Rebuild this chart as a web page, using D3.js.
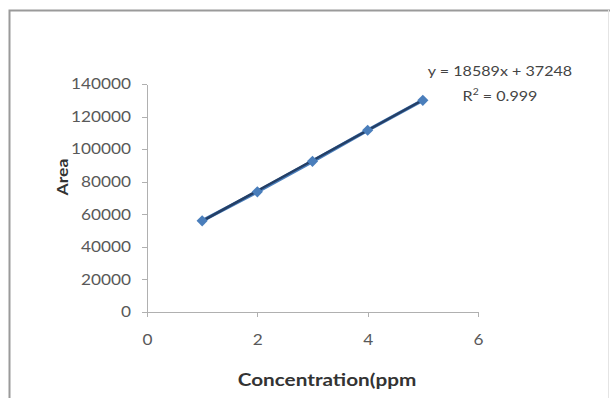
<!DOCTYPE html>
<html lang="en">
<head>
    <meta charset="UTF-8">
    <title>Calibration Curve</title>
    <script src="https://d3js.org/d3.v7.min.js"></script>
    <style>
        body { margin: 0; background: #fff; }
        .axis path, .axis line {
            fill: none;
            stroke: #b0b0b0;
            shape-rendering: crispEdges;
        }
        .axis text {
            font-family: Lato, "Open Sans", sans-serif;
            font-size: 15px;
            fill: #595959;
        }
    </style>
</head>
<body>
<svg width="610" height="398"></svg>
<script>
    // Data
    const conc = [1, 2, 3, 4, 5];
    const area = [56000, 73800, 92500, 111600, 130000];
    const xTicks = [0, 2, 4, 6];
    const yTicks = [0, 20000, 40000, 60000, 80000, 100000, 120000, 140000];
    const equation = "y = 18589x + 37248";

    const data = conc.map((c, i) => ({x: c, y: area[i]}));
    const stretch = 1.15; // the source image is a bit wide

    const svg = d3.select("svg");

    // chart border
    svg.append("path")
        .attr("d", "M9.5,398V10.5H610")
        .attr("fill", "none")
        .attr("stroke", "#9a9a9a")
        .attr("stroke-width", 2);
    svg.append("line")
        .attr("x1", 608.5).attr("x2", 608.5)
        .attr("y1", 10).attr("y2", 398)
        .attr("stroke", "#e4e4e4");

    const x = d3.scaleLinear().domain([0, 6]).range([147, 478]);
    const y = d3.scaleLinear().domain([0, 140000]).range([312, 84]);

    // Y axis
    const gy = svg.append("g")
        .attr("class", "axis")
        .attr("transform", "translate(147,0)")
        .call(d3.axisLeft(y).tickValues(yTicks).tickSize(5).tickSizeOuter(0).tickFormat(d3.format("d")));
    gy.selectAll(".tick text")
        .attr("x", -16 / stretch)
        .attr("transform", "scale(" + stretch + ",1)");

    // X axis
    const gx = svg.append("g")
        .attr("class", "axis")
        .attr("transform", "translate(0,312)")
        .call(d3.axisBottom(x).tickValues(xTicks).tickSize(5).tickSizeOuter(0).tickFormat(d3.format("d")));
    gx.selectAll(".tick text")
        .attr("y", 22)
        .attr("transform", "scale(" + stretch + ",1)");

    function label(px, py, str, size, bold, rot, sx) {
        return svg.append("text")
            .attr("transform", "translate(" + px + "," + py + ")" + (rot ? " rotate(-90)" : "") +
                " scale(" + sx + ",1)")
            .attr("text-anchor", "middle")
            .style("font-family", "Lato, sans-serif")
            .style("font-size", size + "px")
            .style("font-weight", bold ? "bold" : "normal")
            .style("fill", bold ? "#333" : "#444")
            .text(str);
    }

    // Axis titles
    label(327, 386, "Concentration(ppm", 17, true, false, 1.22);
    label(68, 177, "Area", 16, true, true, 1.1);

    // Series line
    const line = d3.line().x(d => x(d.x)).y(d => y(d.y));
    svg.append("path")
        .attr("d", line(data))
        .attr("fill", "none")
        .attr("stroke", "#4a7ebb")
        .attr("stroke-width", 3.5);

    // Trendline
    const trend = [{x: 1, y: 18589 * 1 + 37248}, {x: 5, y: 18589 * 5 + 37248}];
    svg.append("path")
        .attr("d", line(trend))
        .attr("fill", "none")
        .attr("stroke", "#243f66")
        .attr("stroke-width", 2.5);

    // Diamond markers
    svg.selectAll(".pt")
        .data(data)
        .enter().append("path")
        .attr("class", "pt")
        .attr("transform", d => "translate(" + x(d.x) + "," + y(d.y) + ")")
        .attr("d", d3.symbol().type(d3.symbolDiamond2).size(80))
        .attr("fill", "#4a7ebb");

    // Equation label
    label(500, 76, equation, 14, false, false, 1.15);

    const r2 = label(500, 101, "", 14, false, false, 1.15);
    r2.append("tspan").text("R");
    r2.append("tspan").attr("dy", -6).style("font-size", "9px").text("2");
    r2.append("tspan").attr("dy", 6).text(" = 0.999");
</script>
</body>
</html>
